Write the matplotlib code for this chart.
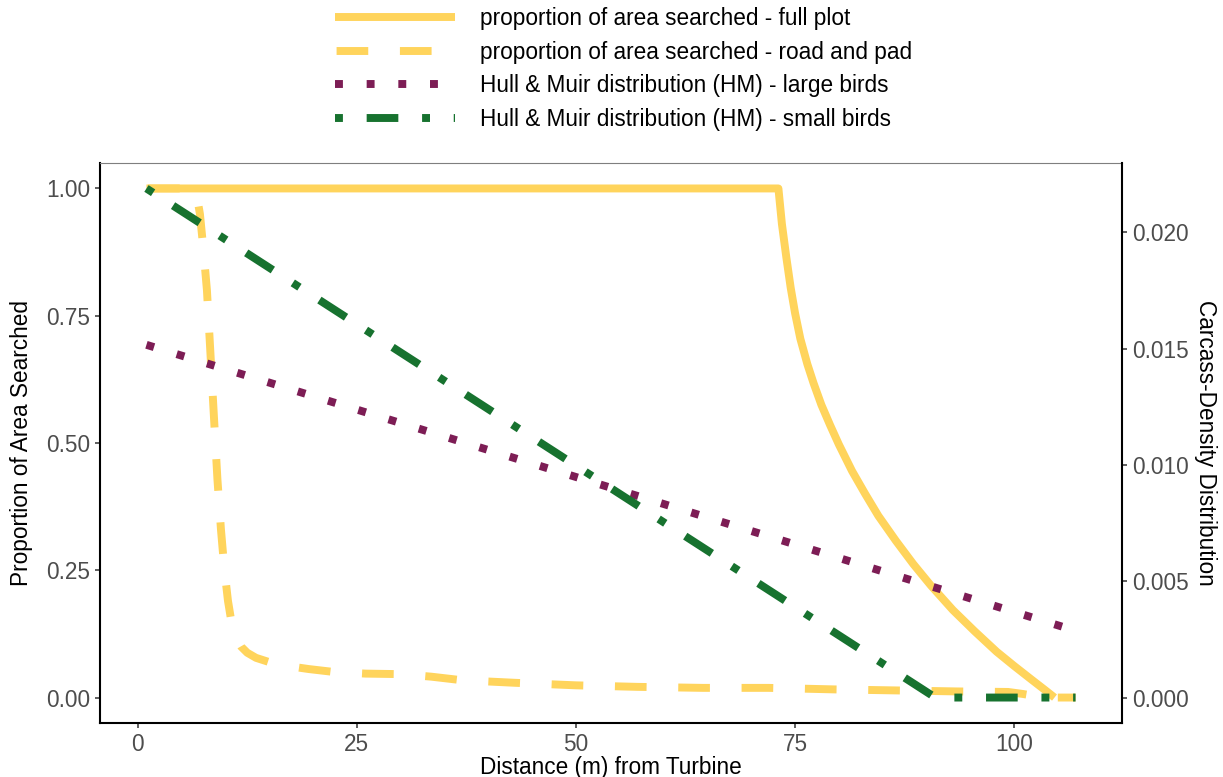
import matplotlib
matplotlib.use("Agg")
import matplotlib.pyplot as plt
from matplotlib.ticker import FormatStrFormatter

plt.rcParams["font.family"] = ["Liberation Sans", "DejaVu Sans"]

# Proportion of area searched, full plot
full_dist = [1, 73.1, 73.5, 74.0, 74.5, 75.0, 75.6, 76.4, 77.1, 78.0, 79.0, 80.0, 81.5, 83.0,
             84.5, 86.5, 88.5, 90.5, 93.0, 95.5, 98.0, 100.0, 102.0, 103.5, 104.6]
full_prop = [1.0, 1.0, 0.93, 0.865, 0.805, 0.755, 0.705, 0.655, 0.618, 0.575, 0.535, 0.497,
             0.445, 0.400, 0.357, 0.308, 0.262, 0.220, 0.172, 0.130, 0.090, 0.062, 0.035,
             0.015, 0.0]

# Proportion of area searched, road and pad only
road_dist = [1, 6, 6.7, 7.1, 7.5, 7.9, 8.3, 8.7, 9.1, 9.5, 9.9, 10.3, 10.7, 11.2, 11.8, 12.5,
             13.5, 15.3, 17.5, 19.5, 22.5, 26, 30, 33.5, 37, 43, 50, 57, 64.5, 72, 79.5, 86.5,
             93.5, 99.3, 101, 102.7, 104, 107]
road_prop = [1.0, 1.0, 0.99, 0.95, 0.88, 0.80, 0.676, 0.551, 0.428, 0.33, 0.25, 0.19, 0.148,
             0.118, 0.10, 0.088, 0.078, 0.068, 0.061, 0.056, 0.05, 0.047, 0.046, 0.041, 0.034,
             0.029, 0.024, 0.021, 0.019, 0.019, 0.016, 0.014, 0.012, 0.011, 0.007, 0.002,
             0.0, 0.0]

# Hull & Muir carcass-density distributions
hm_large_dist = [1, 107]
hm_large_dens = [0.01516, 0.00287]
hm_small_dist = [1, 91, 107]
hm_small_dens = [0.02188, 0.0, 0.0]

left_ticks = [0.0, 0.25, 0.5, 0.75, 1.0]
right_ticks = [0.0, 0.005, 0.010, 0.015, 0.020]
x_ticks = [0, 25, 50, 75, 100]

labels = ["proportion of area searched - full plot",
          "proportion of area searched - road and pad",
          "Hull & Muir distribution (HM) - large birds",
          "Hull & Muir distribution (HM) - small birds"]

YELLOW = "#FFD45C"
PURPLE = "#7D1D55"
GREEN = "#17722F"
LW = 5.7
FS = 16.3
TICK_GREY = "#4D4D4D"

# density axis scaled so the small-bird maximum sits at 1 on the proportion axis
dens_scale = hm_small_dens[0]

fig = plt.figure(figsize=(12.23, 7.77), dpi=100)
ax = fig.add_axes([100 / 1223, 1 - 723 / 777, 1022 / 1223, 560 / 777])
ax2 = ax.twinx()

l1, = ax.plot(full_dist, full_prop, color=YELLOW, lw=LW, solid_capstyle="butt",
              solid_joinstyle="round")
l2, = ax.plot(road_dist, road_prop, color=YELLOW, lw=LW, linestyle=(7.8, (4, 4)),
              dash_capstyle="butt", dash_joinstyle="round")
l3, = ax2.plot(hm_large_dist, hm_large_dens, color=PURPLE, lw=LW, linestyle=(0, (1, 3)),
               dash_capstyle="butt")
l4, = ax2.plot(hm_small_dist, hm_small_dens, color=GREEN, lw=LW, linestyle=(0, (1, 3, 4, 3)),
               dash_capstyle="butt")

xmin, xmax = 1 - 0.05 * 106, 107 + 0.05 * 106
ax.set_xlim(xmin, xmax)
ax.set_ylim(-0.05, 1.05)
ax2.set_ylim(-0.05 * dens_scale, 1.05 * dens_scale)

ax.set_xticks(x_ticks)
ax.set_yticks(left_ticks)
ax2.set_yticks(right_ticks)
ax.yaxis.set_major_formatter(FormatStrFormatter("%.2f"))
ax2.yaxis.set_major_formatter(FormatStrFormatter("%.3f"))

for a in (ax, ax2):
    a.tick_params(axis="both", length=3.6, width=1.1, color="#333333",
                  labelsize=FS, labelcolor=TICK_GREY, pad=3.6)
    for s in a.spines.values():
        s.set_visible(False)

for side in ("left", "bottom"):
    ax.spines[side].set_visible(True)
    ax.spines[side].set_linewidth(1.5)
    ax.spines[side].set_color("black")
ax2.spines["right"].set_visible(True)
ax2.spines["right"].set_linewidth(1.5)
ax2.spines["right"].set_color("black")
ax.spines["top"].set_visible(True)
ax.spines["top"].set_linewidth(0.8)
ax.spines["top"].set_color("#7F7F7F")

ax.set_xlabel("Distance (m) from Turbine", fontsize=FS, va="baseline")
ax.xaxis.set_label_coords(0.5, (723 - 774) / 560)
ax.set_ylabel("Proportion of Area Searched", fontsize=FS, labelpad=9)
ax2.set_ylabel("Carcass-Density Distribution", fontsize=FS, rotation=270,
               labelpad=20)

fig.legend([l1, l2, l3, l4], labels, loc="upper left",
           bbox_to_anchor=(335 / 1223, 1 - 7 / 777), frameon=False, fontsize=FS,
           handlelength=5.3, handletextpad=1.1, labelspacing=0.47,
           borderpad=0, borderaxespad=0)

fig.savefig("out.png", dpi=100)
